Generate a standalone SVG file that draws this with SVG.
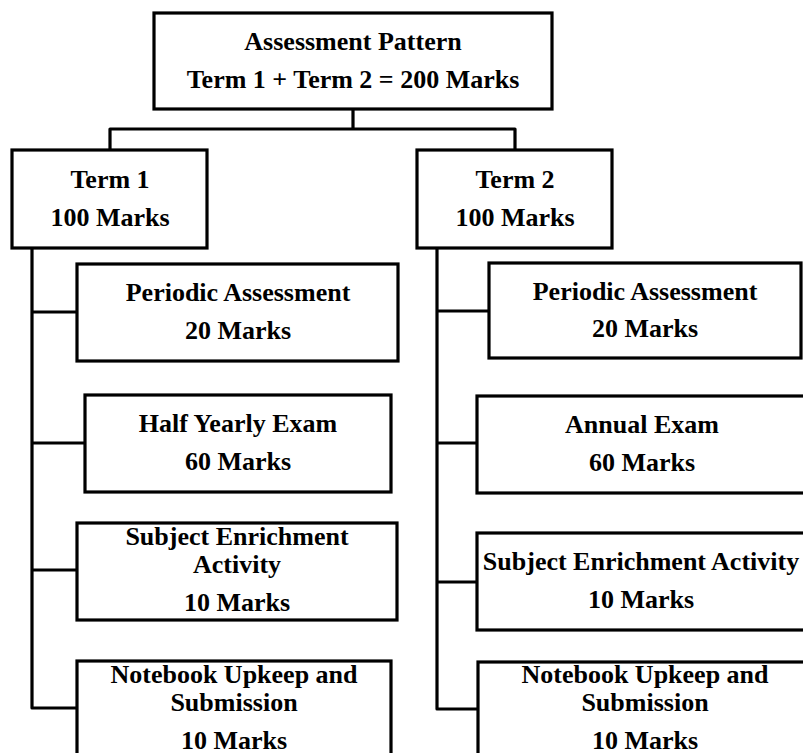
<svg xmlns="http://www.w3.org/2000/svg" width="803" height="753" viewBox="0 0 803 753">
<style>
.box{fill:#fff;stroke:#000;stroke-width:3.2}
.t{font-family:"Liberation Serif","Times New Roman",serif;font-weight:bold;font-size:26px;fill:#000;text-anchor:middle}
.c{fill:none;stroke:#000;stroke-width:3.2;stroke-linejoin:round}
</style>
<rect width="803" height="753" fill="#fff"/>
<g id="connectors">
<path class="c" d="M353 109 V129 M110 150 V129 H515 V150"/>
<path class="c" d="M32 248 V708 H77 M32 312 H77 M32 443 H85 M32 570 H77"/>
<path class="c" d="M437 248 V709 H478 M437 311 H489 M437 443 H477 M437 582 H477"/>
</g>
<g id="root">
<rect class="box" x="154" y="13" width="398" height="96"/>
<text class="t" x="353" y="50">Assessment Pattern</text>
<text class="t" x="353" y="88">Term 1 + Term 2 = 200 Marks</text>
</g>
<g id="term1">
<rect class="box" x="12" y="150" width="195" height="98"/>
<text class="t" x="110" y="188">Term 1</text>
<text class="t" x="110" y="226">100 Marks</text>
</g>
<g id="term2">
<rect class="box" x="417" y="150" width="195" height="98"/>
<text class="t" x="515" y="188">Term 2</text>
<text class="t" x="515" y="226">100 Marks</text>
</g>
<g id="t1-periodic">
<rect class="box" x="77" y="264" width="321" height="97"/>
<text class="t" x="238" y="301">Periodic Assessment</text>
<text class="t" x="238" y="339">20 Marks</text>
</g>
<g id="t1-halfyearly">
<rect class="box" x="85" y="395" width="306" height="97"/>
<text class="t" x="238" y="432">Half Yearly Exam</text>
<text class="t" x="238" y="470">60 Marks</text>
</g>
<g id="t1-enrichment">
<rect class="box" x="77" y="523" width="320" height="97"/>
<text class="t" x="237" y="545">Subject Enrichment</text>
<text class="t" x="237" y="573">Activity</text>
<text class="t" x="237" y="611">10 Marks</text>
</g>
<g id="t1-notebook">
<rect class="box" x="77" y="661" width="314" height="110"/>
<text class="t" x="234" y="683">Notebook Upkeep and</text>
<text class="t" x="234" y="711">Submission</text>
<text class="t" x="234" y="749">10 Marks</text>
</g>
<g id="t2-periodic">
<rect class="box" x="489" y="263" width="312" height="95"/>
<text class="t" x="645" y="300">Periodic Assessment</text>
<text class="t" x="645" y="337">20 Marks</text>
</g>
<g id="t2-annual">
<rect class="box" x="477" y="396" width="335" height="97"/>
<text class="t" x="642" y="433">Annual Exam</text>
<text class="t" x="642" y="471">60 Marks</text>
</g>
<g id="t2-enrichment">
<rect class="box" x="477" y="533" width="335" height="97"/>
<text class="t" x="641" y="570">Subject Enrichment Activity</text>
<text class="t" x="641" y="608">10 Marks</text>
</g>
<g id="t2-notebook">
<rect class="box" x="478" y="662" width="335" height="110"/>
<text class="t" x="645" y="683">Notebook Upkeep and</text>
<text class="t" x="645" y="711">Submission</text>
<text class="t" x="645" y="749">10 Marks</text>
</g>
</svg>
